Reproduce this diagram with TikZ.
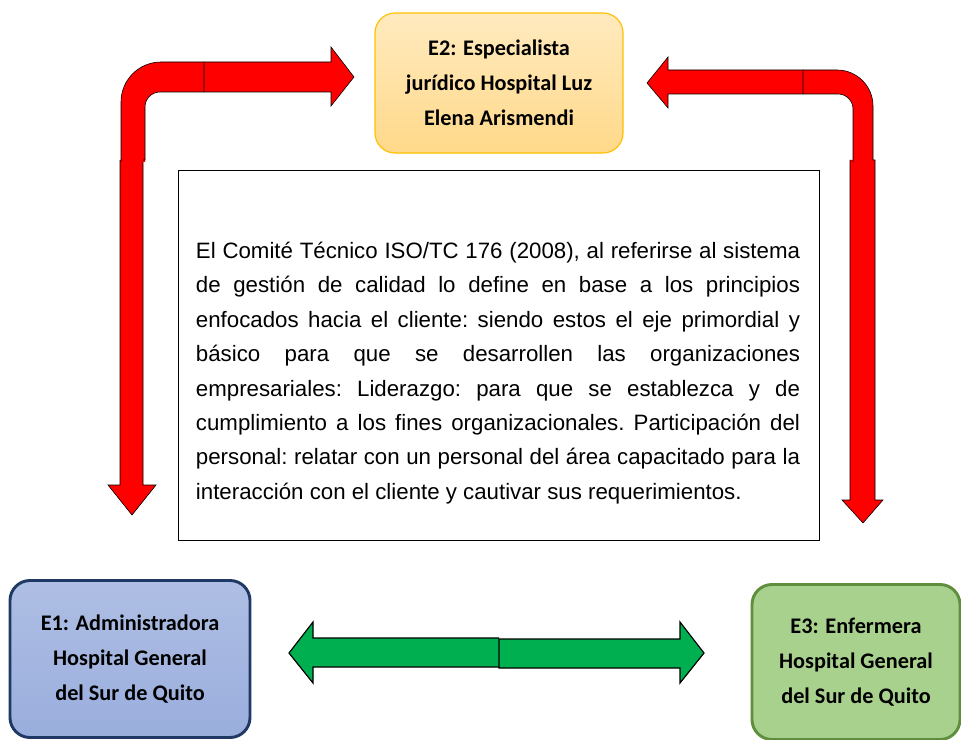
\documentclass[tikz,border=0pt]{standalone}
\usepackage{fontspec}
\setmainfont{Liberation Sans}
\newfontfamily\labelfont{Carlito}
\usetikzlibrary{positioning}
\definecolor{arrowR}{HTML}{FF0000}
\definecolor{arrowG}{HTML}{00B050}
\definecolor{eOneFill}{HTML}{9AAEDD}
\definecolor{eOneLine}{HTML}{1F3864}
\definecolor{eTwoFill}{HTML}{FFD98A}
\definecolor{eTwoLine}{HTML}{FFC000}
\definecolor{eThreeFill}{HTML}{A9D18E}
\definecolor{eThreeLine}{HTML}{5E8E3E}

\tikzset{
  actor/.style={draw, rounded corners=0.6cm, align=center, inner sep=0pt,
    font=\labelfont\bfseries\fontsize{19}{30}\selectfont},
  redarrow/.style={fill=arrowR, draw=black, line width=0.5pt},
  greenarrow/.style={fill=arrowG, draw=black, line width=1pt}
}

\begin{document}
\begin{tikzpicture}[x=0.03cm,y=-0.03cm]
\useasboundingbox (0,0) rectangle (961,740);

% actors
\node[actor, top color=eTwoFill!55, bottom color=eTwoFill, draw=eTwoLine, line width=1pt,
  minimum width=7.44cm, minimum height=4.2cm] (e2) at (499,83)
  {E2: Especialista\\jurídico Hospital Luz\\Elena Arismendi};
\node[actor, top color=eOneFill!80, bottom color=eOneFill, draw=eOneLine, line width=2.5pt,
  minimum width=7.2cm, minimum height=4.71cm] (e1) at (130,659)
  {E1: Administradora\\Hospital General\\del Sur de Quito};
\node[actor, fill=eThreeFill, draw=eThreeLine, line width=2.5pt,
  minimum width=6.24cm, minimum height=4.65cm] (e3) at (856,662)
  {E3: Enfermera\\Hospital General\\del Sur de Quito};

% quote
\node[draw, line width=0.6pt, minimum width=19.23cm, minimum height=11.1cm] (quote) at (498.5,355) {};
\node[text width=18.12cm, align=justify, inner sep=0pt,
  font=\frenchspacing\fontsize{19}{29.4}\selectfont] (quotetext) at (498,373)
  {El Comité Técnico ISO/TC 176 (2008), al referirse al sistema\linebreak
   de gestión de calidad lo define en base a los principios\linebreak
   enfocados hacia el cliente: siendo estos el eje primordial y\linebreak
   básico para que se desarrollen las organizaciones\linebreak
   empresariales: Liderazgo: para que se establezca y de\linebreak
   cumplimiento a los fines organizacionales. Participación del\linebreak
   personal: relatar con un personal del área capacitado para la\linebreak
   interacción con el cliente y cautivar sus requerimientos.};

% left red arrow
\draw[redarrow] (120,160) -- (120,485) -- (108,485) -- (132,515) -- (156,485)
  -- (143,485) -- (143,160);
\fill[arrowR] (121,162) -- (121,102) arc (180:270:40) -- (204,62) -- (204,92)
  -- (160,92) arc (270:180:15) -- (145,162) -- cycle;
\draw[line width=0.5pt] (121,162) -- (121,102) arc (180:270:40) -- (204,62);
\draw[line width=0.5pt] (204,92) -- (160,92) arc (270:180:15) -- (145,160) -- (143,160);
\draw[redarrow] (204,62) -- (331,62) -- (331,47) -- (354,77) -- (331,106)
  -- (331,92) -- (204,92) -- cycle;

% right red arrow
\draw[redarrow] (875,160) -- (875,500) -- (883,500) -- (863,523) -- (842,500)
  -- (850,500) -- (850,160);
\fill[arrowR] (873,162) -- (873,106) arc (0:-90:36) -- (803,70) -- (803,94)
  -- (838,94) arc (-90:0:15) -- (853,162) -- cycle;
\draw[line width=0.5pt] (875,160) -- (873,160) -- (873,106) arc (0:-90:36) -- (803,70);
\draw[line width=0.5pt] (803,94) -- (838,94) arc (-90:0:15) -- (853,162);
\draw[redarrow] (803,70) -- (668,70) -- (668,57) -- (647,83) -- (668,108)
  -- (668,94) -- (803,94) -- cycle;

% green double arrow
\draw[greenarrow] (499,638) -- (313,638) -- (313,622) -- (289,653) -- (313,683)
  -- (313,667) -- (499,667);
\draw[greenarrow] (499,639) -- (680,639) -- (680,622) -- (704,653) -- (680,683)
  -- (680,668) -- (499,668) -- cycle;

\end{tikzpicture}
\end{document}
